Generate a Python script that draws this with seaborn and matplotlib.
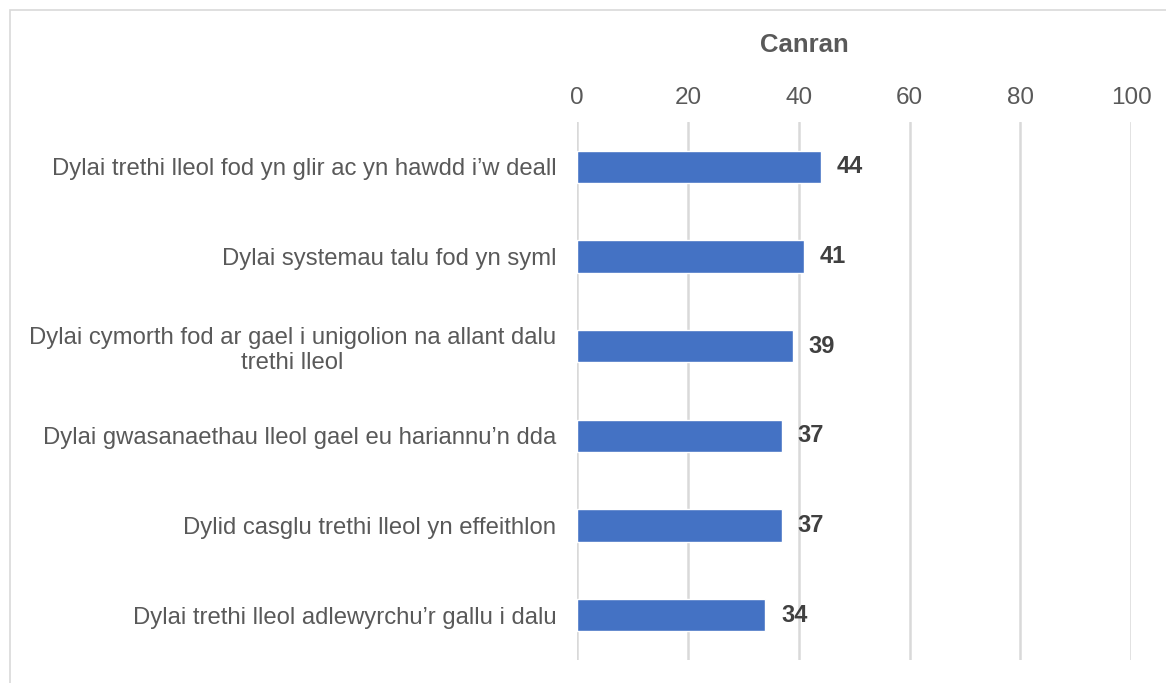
import matplotlib
matplotlib.use("Agg")
from matplotlib import pyplot as plt
from matplotlib.patches import Rectangle
import pandas as pd
import seaborn as sns

statements = [
    "Dylai trethi lleol fod yn glir ac yn hawdd i\u2019w deall",
    "Dylai systemau talu fod yn syml",
    "Dylai cymorth fod ar gael i unigolion na allant dalu\ntrethi lleol",
    "Dylai gwasanaethau lleol gael eu hariannu\u2019n dda",
    "Dylid casglu trethi lleol yn effeithlon",
    "Dylai trethi lleol adlewyrchu\u2019r gallu i dalu",
]
percent = [44, 41, 39, 37, 37, 34]
xticks = [0, 20, 40, 60, 80, 100]

df = pd.DataFrame({"statement": statements, "percent": percent})

sns.set_style("white")
plt.rcParams["font.family"] = ["Liberation Sans", "DejaVu Sans"]

fig = plt.figure(figsize=(11.66, 6.83), dpi=100)
ax = fig.add_axes([0.4949, 0.0337, 0.4753, 0.7877])

sns.barplot(data=df, x="percent", y="statement", color="#4472C4", saturation=1,
            width=0.36, ax=ax, zorder=3)

ax.set_xlim(0, 100)
ax.set_xticks(xticks)
ax.xaxis.tick_top()
ax.xaxis.set_label_position("top")
ax.set_xlabel("Canran", fontsize=18.5, fontweight="bold", color="#595959")
ax.xaxis.set_label_coords(0.41, 1.0 + 77 / 538)
ax.xaxis.label.set_va("center")
ax.set_ylabel("")
ax.tick_params(axis="x", length=0, labelsize=17.5, labelcolor="#595959", pad=9)
ax.tick_params(axis="y", length=0, labelsize=17.2, labelcolor="#595959", pad=15)
for lab in ax.get_yticklabels():
    lab.set_multialignment("center")

ax.grid(axis="x", color="#D9D9D9", linewidth=1.8, zorder=0)
ax.grid(axis="y", visible=False)
for s in ax.spines.values():
    s.set_visible(False)

for i, v in enumerate(percent):
    ax.text(v + 2.8, i, str(v), va="center", ha="left", fontsize=17,
            fontweight="bold", color="#404040")

fig.patches.append(Rectangle((10 / 1166, -0.1), 1.2, 1 - 10 / 683 + 0.1,
                             transform=fig.transFigure, fill=False,
                             edgecolor="#D9D9D9", linewidth=1.2))

fig.savefig("out.png", dpi=100)
